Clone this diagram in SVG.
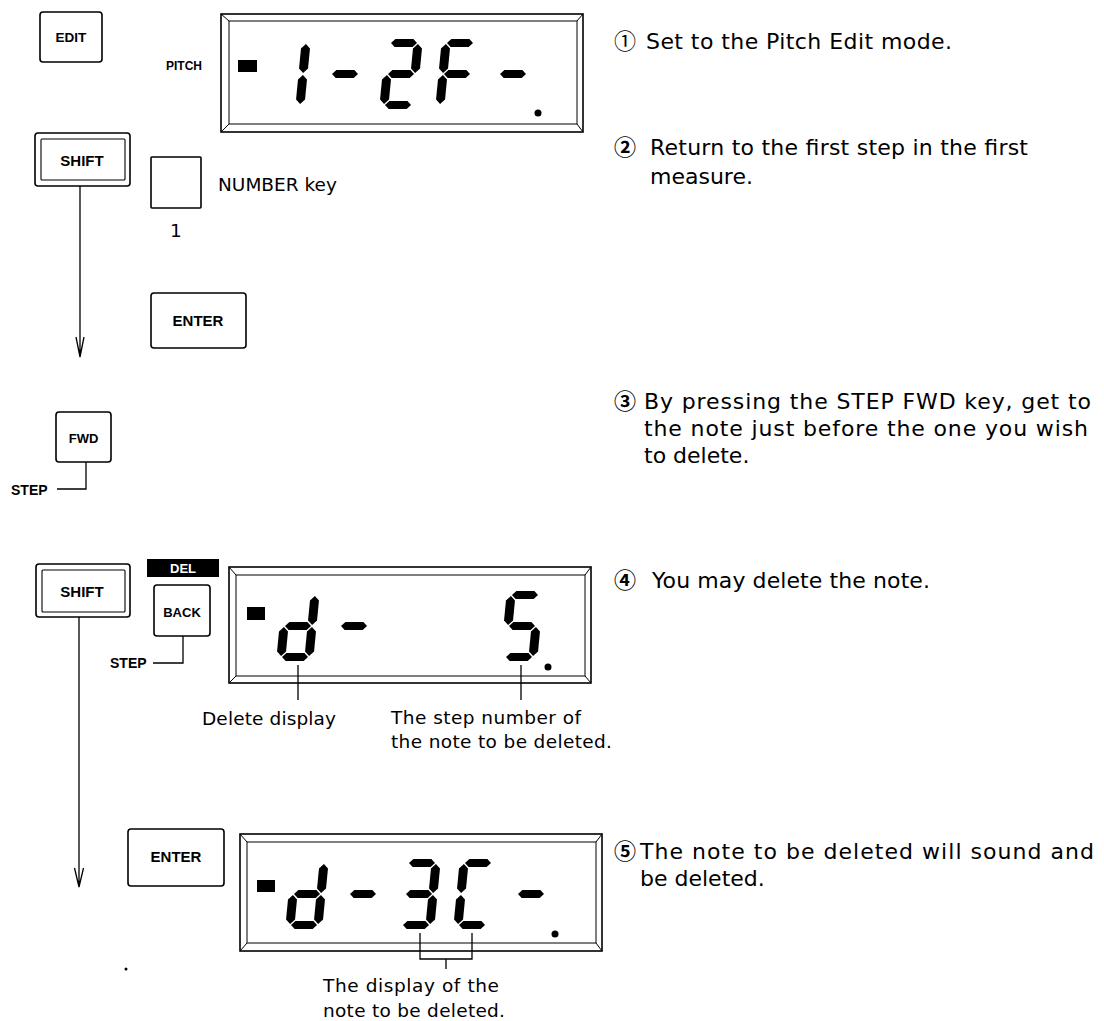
<svg xmlns="http://www.w3.org/2000/svg" xmlns:xlink="http://www.w3.org/1999/xlink" width="1104" height="1021" viewBox="0 0 1104 1021">
<style>
.key{fill:#fff;stroke:#000;stroke-width:1.6}
.kin{fill:none;stroke:#000;stroke-width:1.1}
.kl{font-family:"Liberation Sans",Arial,sans-serif;font-weight:bold;fill:#000;text-anchor:middle}
.body{font-family:"DejaVu Sans","Liberation Sans",sans-serif;font-size:22px;fill:#000}
.lab{font-family:"DejaVu Sans","Liberation Sans",sans-serif;font-size:18.5px;fill:#000}
.num{font-family:"Noto Sans CJK JP","DejaVu Sans",sans-serif;font-size:22px;fill:#000}
.nb{font-weight:bold}
.fr{fill:#fff;stroke:#000;stroke-width:1.6}
.fi{fill:none;stroke:#000;stroke-width:1}
.ln{fill:none;stroke:#000;stroke-width:1.3}
.seg{fill:#000}
</style>
<defs>
<polygon id="sh" class="seg" points="1,0 5,-4 23,-4 27,0 23,4 5,4"/>
<polygon id="sv" class="seg" points="0,1 4.5,5.5 4.5,25.5 0,30 -4.5,25.5 -4.5,5.5"/>
</defs>
<rect width="1104" height="1021" fill="#fff"/>

<!-- Keys -->
<g id="key-edit"><rect class="key" x="40" y="12" width="62" height="50" rx="3"/><text class="kl" x="71" y="42" font-size="13.5">EDIT</text></g>
<g id="label-pitch"><text class="kl" x="166" y="70" font-size="12" style="text-anchor:start">PITCH</text></g>
<g id="key-shift1"><rect class="key" x="35" y="133" width="95" height="53" rx="3"/><rect class="kin" x="41" y="139" width="84" height="41" rx="1"/><text class="kl" x="82" y="166" font-size="15">SHIFT</text></g>
<g id="key-number"><rect class="key" x="151" y="157" width="50" height="51" rx="1"/><text class="lab" x="176" y="237" text-anchor="middle" font-size="16">1</text><text class="lab" x="218" y="191" font-size="21.5">NUMBER key</text></g>
<g id="key-enter1"><rect class="key" x="151" y="293" width="95" height="55" rx="3"/><text class="kl" x="198" y="326" font-size="15">ENTER</text></g>
<g id="key-fwd"><rect class="key" x="56" y="412" width="55" height="50" rx="3"/><text class="kl" x="83.5" y="443" font-size="13">FWD</text></g>
<g id="label-step1"><text class="kl" x="11" y="495" font-size="14" style="text-anchor:start">STEP</text></g>
<g id="key-shift2"><rect class="key" x="36" y="564" width="94" height="53" rx="3"/><rect class="kin" x="42" y="570" width="83" height="42" rx="1"/><text class="kl" x="82" y="597" font-size="15">SHIFT</text></g>
<g id="label-del"><rect x="147" y="559" width="72" height="18" fill="#000"/><text class="kl" x="183" y="573" font-size="13" style="fill:#fff">DEL</text></g>
<g id="key-back"><rect class="key" x="154" y="585" width="56" height="51" rx="3"/><text class="kl" x="182" y="617" font-size="13">BACK</text></g>
<g id="label-step2"><text class="kl" x="110" y="668" font-size="14" style="text-anchor:start">STEP</text></g>
<g id="key-enter2"><rect class="key" x="128" y="829" width="96" height="57" rx="3"/><text class="kl" x="176" y="862" font-size="15">ENTER</text></g>

<!-- Display 1 -->
<g id="display1">
<rect class="fr" x="221" y="14" width="362" height="118"/>
<rect class="fi" x="229" y="21" width="348" height="103"/>
<path class="fi" d="M221,14 L229,21 M583,14 L577,21 M221,132 L229,124 M583,132 L577,124"/>
<rect x="238" y="60" width="19" height="12" fill="#000"/>
<g transform="translate(278,43) skewX(-5.5)"><use xlink:href="#sv" x="28" y="0"/><use xlink:href="#sv" x="28" y="31"/></g>
<g transform="translate(334,43) skewX(-5.5)"><use xlink:href="#sh" x="0" y="31"/></g>
<g transform="translate(390,43) skewX(-5.5)"><use xlink:href="#sh" x="0" y="0"/><use xlink:href="#sv" x="28" y="0"/><use xlink:href="#sh" x="0" y="31"/><use xlink:href="#sv" x="0" y="31"/><use xlink:href="#sh" x="0" y="62"/></g>
<g transform="translate(446,43) skewX(-5.5)"><use xlink:href="#sh" x="0" y="0"/><use xlink:href="#sv" x="0" y="0"/><use xlink:href="#sh" x="0" y="31"/><use xlink:href="#sv" x="0" y="31"/></g>
<g transform="translate(502,43) skewX(-5.5)"><use xlink:href="#sh" x="0" y="31"/></g>
<circle cx="538" cy="113" r="3.5" fill="#000"/>
</g>

<!-- Display 2 -->
<g id="display2">
<rect class="fr" x="229" y="567" width="362" height="116"/>
<rect class="fi" x="236" y="575" width="349" height="101"/>
<path class="fi" d="M229,567 L236,575 M591,567 L585,575 M229,683 L236,676 M591,683 L585,676"/>
<rect x="247" y="607" width="18" height="13" fill="#000"/>
<g transform="translate(287,595) skewX(-5.5)"><use xlink:href="#sv" x="28" y="0"/><use xlink:href="#sv" x="28" y="31"/><use xlink:href="#sh" x="0" y="31"/><use xlink:href="#sv" x="0" y="31"/><use xlink:href="#sh" x="0" y="62"/></g>
<g transform="translate(343,595) skewX(-5.5)"><use xlink:href="#sh" x="0" y="31"/></g>
<g transform="translate(511,595) skewX(-5.5)"><use xlink:href="#sh" x="0" y="0"/><use xlink:href="#sv" x="0" y="0"/><use xlink:href="#sh" x="0" y="31"/><use xlink:href="#sv" x="28" y="31"/><use xlink:href="#sh" x="0" y="62"/></g>
<circle cx="548" cy="667" r="3.5" fill="#000"/>
</g>

<!-- Display 3 -->
<g id="display3">
<rect class="fr" x="240" y="834" width="362" height="117"/>
<rect class="fi" x="247" y="842" width="349" height="101"/>
<path class="fi" d="M240,834 L247,842 M602,834 L596,842 M240,951 L247,943 M602,951 L596,943"/>
<rect x="257" y="880" width="18" height="12" fill="#000"/>
<g transform="translate(296,863) skewX(-5.5)"><use xlink:href="#sv" x="28" y="0"/><use xlink:href="#sv" x="28" y="31"/><use xlink:href="#sh" x="0" y="31"/><use xlink:href="#sv" x="0" y="31"/><use xlink:href="#sh" x="0" y="62"/></g>
<g transform="translate(352,863) skewX(-5.5)"><use xlink:href="#sh" x="0" y="31"/></g>
<g transform="translate(408,863) skewX(-5.5)"><use xlink:href="#sh" x="0" y="0"/><use xlink:href="#sv" x="28" y="0"/><use xlink:href="#sh" x="0" y="31"/><use xlink:href="#sv" x="28" y="31"/><use xlink:href="#sh" x="0" y="62"/></g>
<g transform="translate(464,863) skewX(-5.5)"><use xlink:href="#sh" x="0" y="0"/><use xlink:href="#sv" x="0" y="0"/><use xlink:href="#sv" x="0" y="31"/><use xlink:href="#sh" x="0" y="62"/></g>
<g transform="translate(520,863) skewX(-5.5)"><use xlink:href="#sh" x="0" y="31"/></g>
<circle cx="555" cy="934" r="3.5" fill="#000"/>
</g>

<!-- Connectors -->
<g id="connectors">
<path class="ln" d="M80,186 L80,357 M76,337 L80,357 L84,337"/>
<path class="ln" d="M57,489 L86,489 L86,462"/>
<path class="ln" d="M153,663 L183,663 L183,636"/>
<path class="ln" d="M79,617 L79,887 M74.5,868 L79,887 L83.5,868"/>
<path class="ln" d="M298,665 L298,700 M521,665 L521,700"/>
<path class="ln" d="M420,933 L420,959 L472,959 L472,933 M446,959 L446,969"/>
</g>
<circle cx="126" cy="969" r="1.5" fill="#000"/>

<!-- Callout labels -->
<g id="labels">
<text class="lab" x="202" y="725" textLength="134" lengthAdjust="spacing">Delete display</text>
<text class="lab" x="391" y="724" textLength="190" lengthAdjust="spacing">The step number of</text>
<text class="lab" x="391" y="748" textLength="221" lengthAdjust="spacing">the note to be deleted.</text>
<text class="lab" x="323" y="992" textLength="176" lengthAdjust="spacing">The display of the</text>
<text class="lab" x="323" y="1017" textLength="182" lengthAdjust="spacing">note to be deleted.</text>
</g>

<!-- Step descriptions -->
<g id="steps">
<text class="num" x="614" y="49">①</text>
<text class="body" x="646" y="49" textLength="306" lengthAdjust="spacing">Set to the Pitch Edit mode.</text>
<text class="num nb" x="614" y="155">②</text>
<text class="body" x="650" y="155" textLength="378" lengthAdjust="spacing">Return to the first step in the first</text>
<text class="body" x="650" y="184">measure.</text>
<text class="num nb" x="614" y="409">③</text>
<text class="body" x="644" y="409" textLength="447" lengthAdjust="spacing">By pressing the STEP FWD key, get to</text>
<text class="body" x="644" y="436" textLength="444" lengthAdjust="spacing">the note just before the one you wish</text>
<text class="body" x="644" y="463">to delete.</text>
<text class="num nb" x="614" y="588">④</text>
<text class="body" x="652" y="588" textLength="278" lengthAdjust="spacing">You may delete the note.</text>
<text class="num nb" x="614" y="859">⑤</text>
<text class="body" x="640" y="859" textLength="454" lengthAdjust="spacing">The note to be deleted will sound and</text>
<text class="body" x="640" y="886">be deleted.</text>
</g>
</svg>
